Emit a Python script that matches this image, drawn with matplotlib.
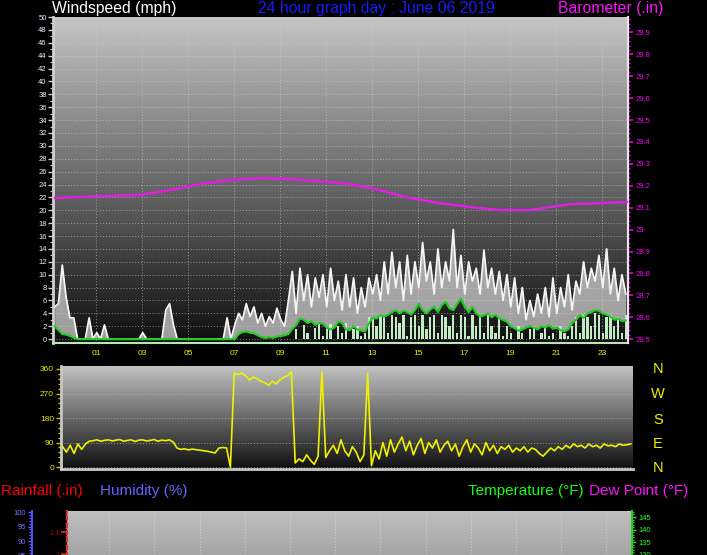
import numpy as np
import matplotlib.pyplot as plt
from matplotlib.ticker import MultipleLocator, FuncFormatter

plt.rcParams['font.family'] = ['Liberation Sans', 'DejaVu Sans']

# 10 minute samples, hours of the day (graph starts a little before midnight)
t = -0.8 + np.arange(150) / 6.0

# wind gust (mph), white spikes
gust = [
    5, 5.5, 11.5, 6.5, 3.3, 3.3, 0, 0, 0, 3.3,
    0, 1, 0, 2.2, 0, 0, 0, 0, 0, 0,
    0, 0, 0, 1, 0, 0, 0, 0, 0, 4.5,
    5.5, 2.2, 0, 0, 0, 0, 0, 0, 0, 0,
    0, 0, 0, 0, 0, 3.3, 0, 2.2, 4, 3,
    5.5, 3.5, 5, 2.5, 4, 2, 3.5, 2.5, 4.8, 3,
    2, 6, 10.5, 4, 11, 6, 10, 5, 9.5, 6.5,
    10, 5, 11, 6, 9, 4.5, 10, 5, 9.5, 4,
    8, 5, 9.5, 7, 10, 6, 12, 7, 13.5, 8,
    12, 6, 13, 7, 12, 8, 15, 9, 12, 7,
    14, 8, 12, 9, 17, 8, 13, 7, 12, 9,
    11, 7, 13.8, 8, 11, 7, 10.5, 6, 10, 5,
    9.5, 4, 8, 3, 6, 3.5, 7, 4, 8, 3.5,
    9.5, 4, 8, 5, 10, 4.5, 9, 7, 12, 8,
    11, 9, 13, 8, 14, 7, 11, 6, 10, 7,
]

# wind speed (mph), pale green bars
wind = [
    0, 0, 0, 0, 0, 0, 0, 0, 0, 0,
    0, 0, 0, 0, 0, 0, 0, 0, 0, 0,
    0, 0, 0, 0, 0, 0, 0, 0, 0, 0,
    0, 0, 0, 0, 0, 0, 0, 0, 0, 0,
    0, 0, 0, 0, 0, 0, 0, 0, 0, 0,
    0, 0, 0, 0, 0, 0, 0, 0, 0, 0,
    0, 0, 0, 1.5, 0, 2.2, 1, 0, 1.8, 2.5,
    0.5, 1.5, 2.4, 0, 2, 1, 2.5, 0, 1.5, 2,
    0.5, 1, 3.5, 3.5, 2, 3.8, 3.5, 1, 3.8, 3.5,
    2.5, 3.8, 0.5, 3.5, 3.8, 2, 3.8, 1.5, 3.5, 3.8,
    1, 3.8, 3.5, 2, 3.8, 1, 3.8, 3.5, 0.5, 3.8,
    2, 3.5, 1, 3.8, 2, 1, 3.5, 0.5, 2, 1,
    0, 2, 1, 0, 1.5, 2, 0, 1, 2, 0.5,
    1, 0, 2, 1, 0.5, 2, 3.5, 1, 3.8, 3.5,
    2, 4, 3.8, 1, 3.5, 3.8, 2, 3.5, 1, 3.8,
]

# average wind (mph), green line
wind_avg = [
    2, 1.4, 0.8, 0.7, 0.5, 0.2, 0, 0, 0, 0,
    0, 0, 0, 0, 0, 0, 0, 0, 0, 0,
    0, 0, 0, 0, 0, 0, 0, 0, 0, 0,
    0, 0, 0, 0, 0, 0, 0, 0, 0, 0,
    0, 0, 0, 0, 0, 0, 0, 0, 0.8, 1.1,
    1.2, 1.0, 0.9, 0.6, 0.3, 0.2, 0.3, 0.2, 0.4, 0.5,
    0.6, 0.8, 1.6, 2.2, 3.2, 3.0, 2.5, 2.8, 2.2, 2.5,
    2.4, 1.8, 1.5, 1.8, 2.7, 2.5, 1.5, 1.4, 2.0, 1.5,
    1.3, 1.2, 2.5, 3.3, 3.2, 3.7, 3.5, 3.8, 4.2, 4.5,
    4.0, 4.4, 4.2, 3.8, 4.5, 5.5, 4.5, 4.0, 4.6, 5.0,
    4.2, 5.3, 5.8, 4.8, 4.5, 5.5, 6.3, 5.0, 4.2, 5.0,
    4.0, 3.5, 3.7, 4.0, 3.4, 3.8, 3.2, 3.0, 2.7, 2.0,
    1.7, 1.3, 1.5, 1.8, 2.0, 1.8, 1.5, 2.0, 1.8, 2.2,
    1.6, 1.8, 1.4, 1.2, 1.5, 2.5, 3.0, 3.7, 3.3, 4.0,
    4.2, 4.5, 4.4, 4.0, 3.8, 3.5, 3.0, 3.2, 2.8, 2.9,
]

# wind direction (degrees)
direction = [
    75, 55, 80, 50, 85, 65, 85, 95, 97, 100,
    95, 98, 100, 96, 99, 101, 95, 98, 100, 94,
    99, 100, 96, 98, 101, 95, 99, 97, 100, 92,
    70, 65, 67, 63, 66, 64, 62, 60, 58, 55,
    52, 70, 72, 70, 0, 345, 340, 345, 335, 320,
    330, 325, 315, 310, 300, 315, 305, 320, 330, 335,
    350, 15, 30, 20, 45, 25, 10, 40, 350, 35,
    60, 80, 50, 100, 60, 40, 75, 55, 20, 45,
    345, 5, 60, 30, 90, 40, 100, 55, 85, 110,
    60, 95, 45, 80, 105, 50, 90, 70, 100, 55,
    80, 95, 60, 85, 40, 75, 100, 55, 85, 70,
    45, 90, 60, 80, 50, 75, 65, 80, 55, 70,
    60, 75, 55, 70, 65, 50, 40, 55, 70, 60,
    75, 65, 80, 70, 85, 75, 80, 70, 85, 75,
    80, 70, 85, 78, 80, 75, 85, 80, 82, 85,
]

# barometer (in)
baro_hours = [-0.78, 1.17, 2.91, 4.22, 5.52, 6.83, 8.13, 9.43, 10.74, 12.04,
              13.35, 14.65, 15.96, 17.26, 18.57, 19.87, 20.74, 21.61, 22.91, 24.13]
baro = [29.144, 29.153, 29.158, 29.180, 29.208, 29.226, 29.235, 29.231, 29.221, 29.208,
        29.180, 29.144, 29.121, 29.103, 29.089, 29.089, 29.103, 29.116, 29.121, 29.126]

hour_ticks = [1, 3, 5, 7, 9, 11, 13, 15, 17, 19, 21, 23]
hour_labels = ['01', '03', '05', '07', '09', '11', '13', '15', '17', '19', '21', '23']
compass = ['N', 'W', 'S', 'E', 'N']

W, H = 707, 555
fig = plt.figure(figsize=(W / 100, H / 100), dpi=100, facecolor='black')
XLIM = (-0.87, 24.13)


def box(left, top, right, bottom):
    return fig.add_axes([left / W, 1 - bottom / H, (right - left) / W, (bottom - top) / H])


def shade(ax, ylim, top, bottom):
    grad = np.linspace(top, bottom, 256).reshape(-1, 1)
    ax.imshow(grad, extent=[XLIM[0], XLIM[1], ylim[0], ylim[1]], cmap='gray',
              vmin=0, vmax=1, aspect='auto', zorder=0, interpolation='bilinear')
    ax.set_xlim(XLIM)
    ax.set_ylim(ylim)


def ftext(x, y, s, color, size=11.3, **kw):
    fig.text(x / W, 1 - y / H, s, color=color, fontsize=size, va='baseline', **kw)


def trim(v, pos):
    return f'{v:.1f}'.rstrip('0').rstrip('.')


dotted = (0, (1, 2))

# ---- wind speed / barometer panel
ax1 = box(53, 17, 628, 343)
ylim1 = (-0.6, 50)
shade(ax1, ylim1, 0.77, 0.06)
ax1.fill_between(t, wind_avg, gust, where=np.array(gust) >= np.array(wind_avg),
                 color='#dadada', alpha=0.7, lw=0, zorder=2)
ax1.plot(t, gust, color='#f4f4f4', lw=1.3, zorder=3)
ax1.bar(t, wind, width=0.1, color='#c4ecc4', zorder=4)
ax1.plot(t, wind_avg, color='#22cc22', lw=1.5, zorder=5)
ax1.set_xlim(XLIM)
ax1.set_ylim(ylim1)
ax1.set_yticks(range(0, 51, 2))
ax1.yaxis.set_minor_locator(MultipleLocator(1))
ax1.set_xticks(hour_ticks)
ax1.set_xticklabels(hour_labels)
ax1.grid(color='#d0d0d0', ls=dotted, lw=0.7, alpha=0.6)
ax1.tick_params(axis='y', which='major', colors='#d0d0d0', labelcolor='#e8f0ff',
                labelsize=5.5, length=3.5, width=1, pad=1)
ax1.tick_params(axis='y', which='minor', colors='#d0d0d0', length=2, width=0.8)
ax1.tick_params(axis='x', length=0, labelcolor='#f0f000', labelsize=6, pad=5)
ax1.spines['top'].set_visible(False)
ax1.spines['left'].set_color('#d0d0d0')
ax1.spines['left'].set_linewidth(2)
ax1.spines['bottom'].set_color('#b8e4b8')
ax1.spines['bottom'].set_linewidth(1.5)
ax1.spines['right'].set_color('#e0e0e0')
ax1.spines['right'].set_linewidth(1.5)

axb = ax1.twinx()
axb.plot(baro_hours, baro, color='#e020e0', lw=1.8, zorder=6)
axb.set_ylim(28.5 - 0.6 * 0.02941, 28.5 + 50 * 0.02941)
axb.set_yticks(np.round(np.arange(28.5, 29.95, 0.1), 1))
axb.yaxis.set_major_formatter(FuncFormatter(trim))
axb.yaxis.set_minor_locator(MultipleLocator(0.02))
axb.tick_params(which='major', colors='#e000e0', labelcolor='#ff00ff',
                labelsize=5.5, length=3.5, width=1.2, pad=2)
axb.tick_params(which='minor', colors='#e000e0', length=1.5, width=1)
for s in ['top', 'left', 'bottom']:
    axb.spines[s].set_visible(False)
axb.spines['right'].set_color('#e8e8e8')
axb.spines['right'].set_linewidth(1.5)

# ---- wind direction panel
ax2 = box(61, 366, 633, 469)
ylim2 = (-7, 371)
shade(ax2, ylim2, 0.76, 0.06)
ax2.plot(t, direction, color='#f0f000', lw=1.2, zorder=3)
ax2.set_ylim(ylim2)
ax2.set_yticks([0, 90, 180, 270, 360])
ax2.yaxis.set_minor_locator(MultipleLocator(18))
ax2.set_xticks([])
ax2.grid(axis='y', color='#d0d0d0', ls=dotted, lw=0.7, alpha=0.6)
ax2.tick_params(axis='y', which='major', colors='#c8c800', labelcolor='#e8e800',
                labelsize=6, length=3.5, width=1, pad=1.5)
ax2.tick_params(axis='y', which='minor', colors='#c8c800', length=2, width=1)
for s in ['top', 'right']:
    ax2.spines[s].set_visible(False)
ax2.spines['left'].set_color('#c8c8c8')
ax2.spines['left'].set_linewidth(2)
ax2.spines['bottom'].set_color('#c8c8c8')
ax2.spines['bottom'].set_linewidth(2)

for label, y in zip(compass, [373, 398, 423.5, 447.5, 471.5]):
    ftext(658, y, label, '#f0f000', size=10.5, ha='center')

# ---- rain / humidity / temperature panel (cut off at the bottom)
ax3 = box(67, 510.7, 632, 640)
ylim3 = (0.609, 1.197)
shade(ax3, ylim3, 0.75, 0.45)
ax3.set_xticks(hour_ticks)
ax3.tick_params(axis='x', length=0, labelbottom=False)
ax3.grid(axis='x', color='#e0e0e0', ls=dotted, lw=0.7, alpha=0.7)
ax3.set_yticks([1.0, 1.1])
ax3.yaxis.set_major_formatter(FuncFormatter(trim))
ax3.yaxis.set_minor_locator(MultipleLocator(0.02))
ax3.tick_params(axis='y', which='major', colors='#e03030', labelcolor='#b00000',
                labelsize=5.5, length=4, width=1.2, pad=1)
ax3.tick_params(axis='y', which='minor', colors='#e03030', length=1.5, width=1)
for s in ['top', 'right', 'bottom']:
    ax3.spines[s].set_visible(False)
ax3.spines['left'].set_color('#e03030')
ax3.spines['left'].set_linestyle((0, (1.5, 2)))
ax3.spines['left'].set_linewidth(1.5)

axh = ax3.twinx()
axh.set_ylim(55.9, 100.45)
axh.yaxis.tick_left()
axh.spines['left'].set_position(('outward', 25.2))
axh.set_yticks([85, 90, 95, 100])
axh.yaxis.set_minor_locator(MultipleLocator(1))
axh.tick_params(which='major', colors='#6060ff', labelcolor='#7070ff',
                labelsize=5.5, length=3, width=1, pad=1)
axh.tick_params(which='minor', colors='#6060ff', length=2, width=0.8)
for s in ['top', 'right', 'bottom']:
    axh.spines[s].set_visible(False)
axh.spines['left'].set_color('#5050ff')
axh.spines['left'].set_linewidth(1.5)

axt = ax3.twinx()
axt.set_ylim(96.4, 147.5)
axt.set_yticks([130, 135, 140, 145])
axt.yaxis.set_minor_locator(MultipleLocator(1))
axt.tick_params(which='major', colors='#20e020', labelcolor='#20ff20',
                labelsize=5.5, length=3, width=1, pad=2)
axt.tick_params(which='minor', colors='#20e020', length=1.5, width=0.8)
for s in ['top', 'left', 'bottom']:
    axt.spines[s].set_visible(False)
axt.spines['right'].set_color('#20d020')
axt.spines['right'].set_linewidth(1.5)

# ---- titles
ftext(52, 13.5, 'Windspeed (mph)', '#ffffff')
ftext(258, 13.5, '24 hour graph day : June 06 2019', '#1a1aff')
ftext(558, 13.5, 'Barometer (.in)', '#ff10ff')
ftext(1, 495, 'Rainfall (.in)', '#ff0000', size=11)
ftext(100, 495, 'Humidity (%)', '#6464ff', size=11)
ftext(468, 495, 'Temperature (\u00b0F)', '#10ff10', size=11)
ftext(589, 495, 'Dew Point (\u00b0F)', '#ff10ff', size=11)

fig.savefig('out.png', dpi=100, facecolor='black')
